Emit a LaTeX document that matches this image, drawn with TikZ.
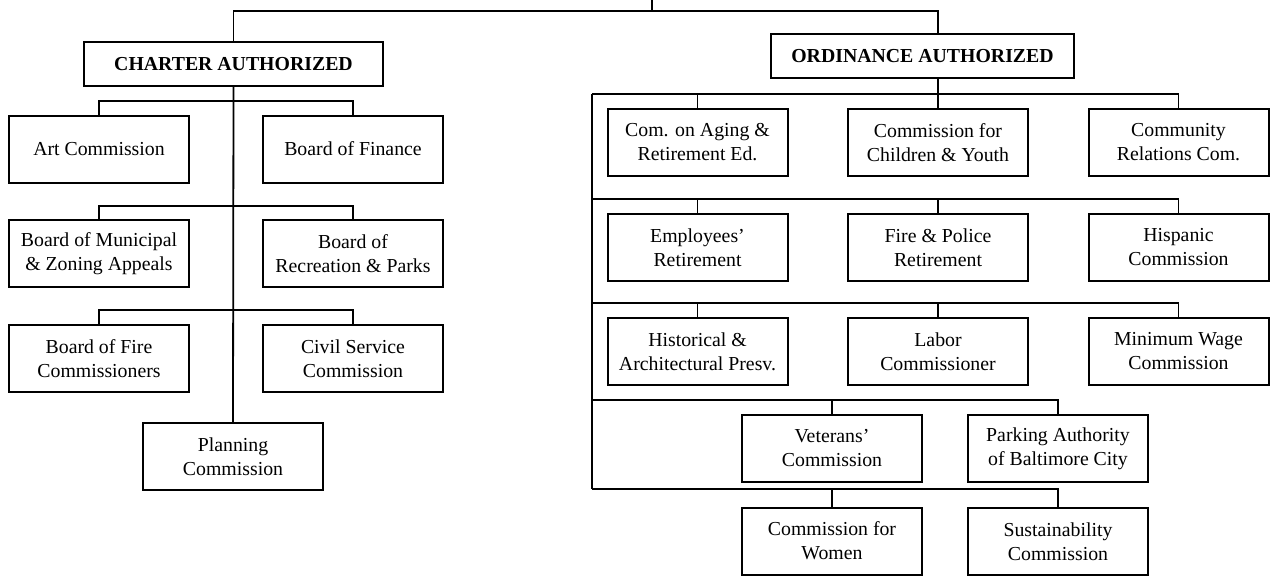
\documentclass[tikz,border=0pt]{standalone}
\usepackage{fontspec}
\setmainfont{Liberation Serif}

\tikzset{
  unit/.style={draw=black, line width=1pt, minimum width=90pt, minimum height=33.5pt,
    inner sep=2pt, align=center, font=\fontsize{9.9}{12}\selectfont},
  head/.style={unit, minimum height=22pt, font=\fontsize{9.9}{12}\selectfont\bfseries},
  link/.style={line width=0.9pt}
}

\begin{document}
\begin{tikzpicture}[x=0.5pt, y=-0.5pt]
    \useasboundingbox (0,0) rectangle (1270,575);

    % top level
    \coordinate (root) at (652,0);
    \coordinate (rootbus) at (652,11);
    \node[head, minimum width=149.5pt] (charter) at (233.5,64) {CHARTER AUTHORIZED};
    \node[head, minimum width=151.5pt] (ordinance) at (922.5,56) {ORDINANCE AUTHORIZED};

    % charter authorized
    \node[unit] (art) at (99,149) {Art Commission};
    \node[unit] (finance) at (353,149) {Board of Finance};
    \node[unit] (zoning) at (99,253.5) {Board of Municipal\\\& Zoning Appeals};
    \node[unit] (parks) at (353,253.5) {Board of\\Recreation \& Parks};
    \node[unit] (firecom) at (99,358.5) {Board of Fire\\Commissioners};
    \node[unit] (civil) at (353,358.5) {Civil Service\\Commission};
    \node[unit] (planning) at (233,456.5) {Planning\\Commission};

    % ordinance authorized
    \node[unit] (aging) at (697.5,142.5) {Com. on Aging \&\\Retirement Ed.};
    \node[unit] (youth) at (938,142.5) {Commission for\\Children \& Youth};
    \node[unit] (community) at (1178.5,142.5) {Community\\Relations Com.};
    \node[unit] (employees) at (697.5,247.5) {Employees'\\Retirement};
    \node[unit] (police) at (938,247.5) {Fire \& Police\\Retirement};
    \node[unit] (hispanic) at (1178.5,247.5) {Hispanic\\Commission};
    \node[unit] (historical) at (697.5,351.5) {Historical \&\\Architectural Presv.};
    \node[unit] (labor) at (938,351.5) {Labor\\Commissioner};
    \node[unit] (wage) at (1178.5,351.5) {Minimum Wage\\Commission};
    \node[unit] (veterans) at (832,448.5) {Veterans'\\Commission};
    \node[unit] (parking) at (1058,448.5) {Parking Authority\\of Baltimore City};
    \node[unit] (women) at (832,541) {Commission for\\Women};
    \node[unit] (sustain) at (1058,541.5) {Sustainability\\Commission};

    % bus points
    \coordinate (lbus1) at (233,101);
    \coordinate (lbus2) at (233,206);
    \coordinate (lbus3) at (233,310);
    \coordinate (rbus1) at (592,94);
    \coordinate (rbus2) at (592,199);
    \coordinate (rbus3) at (592,303);
    \coordinate (rbus4) at (592,400);
    \coordinate (rbus5) at (592,489);

    \draw[link] (root) -- (rootbus);
    \draw[link] (rootbus) -| (charter.north);
    \draw[link] (rootbus) -| (youth.north |- ordinance.north);

    \draw[link] (charter.south) -- (planning.north);
    \draw[link] (lbus1) -| (art.north);
    \draw[link] (lbus1) -| (finance.north);
    \draw[link] (lbus2) -| (zoning.north);
    \draw[link] (lbus2) -| (parks.north);
    \draw[link] (lbus3) -| (firecom.north);
    \draw[link] (lbus3) -| (civil.north);

    \draw[link] (youth.north |- ordinance.south) -- (youth.north);
    \draw[link] (rbus1) -- (rbus5);
    \draw[link] (rbus1) -| (aging.north);
    \draw[link] (rbus1) -| (community.north);
    \draw[link] (rbus2) -| (employees.north);
    \draw[link] (rbus2) -| (police.north);
    \draw[link] (rbus2) -| (hispanic.north);
    \draw[link] (rbus3) -| (historical.north);
    \draw[link] (rbus3) -| (labor.north);
    \draw[link] (rbus3) -| (wage.north);
    \draw[link] (rbus4) -| (veterans.north);
    \draw[link] (rbus4) -| (parking.north);
    \draw[link] (rbus5) -| (women.north);
    \draw[link] (rbus5) -| (sustain.north);
  \end{tikzpicture}
\end{document}
